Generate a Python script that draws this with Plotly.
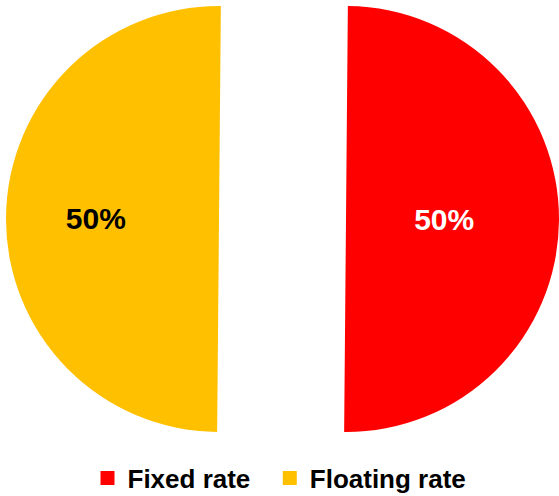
import plotly.graph_objects as go

# Data
labels = ["Fixed rate", "Floating rate"]
values = [50, 50]
colors = ["#FF0000", "#FFC000"]
text_colors = ["white", "black"]

W, H = 559, 496
FONT = "Liberation Sans, Arial, sans-serif"
TRANSPARENT = "rgba(0,0,0,0)"
NBSP = "\u00a0"

# pie geometry (pixels) -> domains
r = 213
cy_top = 219
centers_x = [346, 219]  # right pie (Fixed), left pie (Floating)
label_pad = [2, 4]      # trailing padding to nudge inside labels

fig = go.Figure()
for i, cx in enumerate(centers_x):
    mcolors = [colors[j] if j == i else TRANSPARENT for j in range(len(labels))]
    ttemplates = ["%{percent:.0%}" + NBSP * label_pad[i] if j == i else "" for j in range(len(labels))]
    fig.add_trace(go.Pie(
        labels=labels,
        values=values,
        sort=False,
        direction="clockwise",
        rotation=0.5,
        marker=dict(colors=mcolors, line=dict(width=0)),
        texttemplate=ttemplates,
        textposition="inside",
        insidetextorientation="horizontal",
        textfont=dict(family=FONT, size=30, color=text_colors, weight="bold"),
        hoverinfo="skip",
        showlegend=False,
        domain=dict(
            x=[max(0, (cx - r) / W), min(1, (cx + r) / W)],
            y=[(H - cy_top - r) / H, (H - cy_top + r) / H],
        ),
    ))

legend_names = [labels[0] + NBSP * 2, labels[1]]
for lab, col in zip(legend_names, colors):
    fig.add_trace(go.Scatter(
        x=[None], y=[None], mode="markers", name=lab,
        marker=dict(symbol="square", size=14, color=col),
        showlegend=True,
    ))

fig.update_layout(
    width=W, height=H,
    margin=dict(l=0, r=0, t=0, b=0, autoexpand=False),
    paper_bgcolor="white",
    plot_bgcolor="white",
    xaxis=dict(visible=False),
    yaxis=dict(visible=False),
    legend=dict(
        orientation="h",
        x=0.5, xanchor="center",
        y=0.036, yanchor="middle",
        font=dict(family=FONT, size=26, color="black", weight="bold"),
        itemwidth=30,
        tracegroupgap=0,
    ),
)

fig.write_html(
    "out.html",
    config={"displayModeBar": False},
    post_script="document.body.style.margin='0';document.body.style.overflow='hidden';",
)
